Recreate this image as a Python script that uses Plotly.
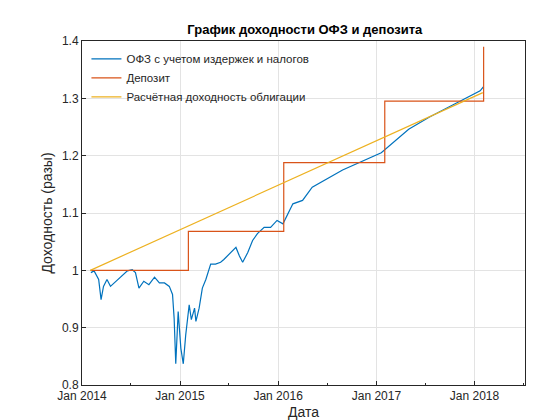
import plotly.graph_objects as go

# ОФЗ (blue)
ofz_dates = [
    "2014-02-03", "2014-02-15", "2014-03-04", "2014-03-13", "2014-03-22", "2014-04-04",
    "2014-04-17", "2014-05-01", "2014-05-13", "2014-06-01", "2014-06-19", "2014-07-07",
    "2014-07-19", "2014-08-01", "2014-08-19", "2014-09-07", "2014-09-28", "2014-10-16",
    "2014-11-04", "2014-11-22", "2014-12-04", "2014-12-10", "2014-12-16", "2014-12-25",
    "2015-01-04", "2015-01-13", "2015-01-22", "2015-02-04", "2015-02-12", "2015-02-24",
    "2015-03-01", "2015-03-13", "2015-03-25", "2015-04-07", "2015-04-25", "2015-05-13",
    "2015-06-01", "2015-06-13", "2015-07-07", "2015-07-28", "2015-08-10", "2015-08-22",
    "2015-09-10", "2015-09-28", "2015-10-16", "2015-11-10", "2015-12-04", "2015-12-28",
    "2016-01-19", "2016-02-01", "2016-02-25", "2016-04-01", "2016-05-07", "2016-08-28",
    "2017-01-19", "2017-05-01", "2017-07-16", "2017-10-19", "2018-01-22", "2018-02-03",
]
ofz_values = [
    0.996, 0.999, 0.984, 0.949, 0.972, 0.984,
    0.972, 0.978, 0.984, 0.993, 0.999, 1.001,
    0.996, 0.969, 0.981, 0.975, 0.988, 0.978,
    0.978, 0.972, 0.958, 0.916, 0.837, 0.928,
    0.864, 0.837, 0.887, 0.940, 0.914, 0.934,
    0.911, 0.934, 0.969, 0.984, 1.011, 1.011,
    1.014, 1.019, 1.031, 1.040, 1.025, 1.014,
    1.031, 1.052, 1.064, 1.075, 1.075, 1.087,
    1.081, 1.093, 1.116, 1.122, 1.145, 1.175,
    1.205, 1.246, 1.267, 1.290, 1.313, 1.320,
]

# Депозит (step line)
dep_dates = ["2014-02-01", "2015-02-01", "2016-01-22", "2017-02-01", "2018-01-28", "2018-02-04"]
dep_values = [1.0, 1.068, 1.188, 1.295, 1.295, 1.39]

# Расчётная доходность облигации (straight line)
calc_dates = ["2014-02-01", "2018-02-01"]
calc_values = [1.0, 1.31]

x_ticks = ["2014-01-01", "2015-01-01", "2016-01-01", "2017-01-01", "2018-01-01"]
x_ticktext = ["Jan 2014", "Jan 2015", "Jan 2016", "Jan 2017", "Jan 2018"]

FONT = "Liberation Sans, Arial, sans-serif"

fig = go.Figure()
fig.add_trace(go.Scatter(x=ofz_dates, y=ofz_values, mode="lines",
                         line=dict(color="#0072BD", width=1.2),
                         name="ОФЗ с учетом издержек и налогов"))
fig.add_trace(go.Scatter(x=dep_dates, y=dep_values, mode="lines",
                         line=dict(color="#D95319", width=1.2, shape="hv"),
                         name="Депозит"))
fig.add_trace(go.Scatter(x=calc_dates, y=calc_values, mode="lines",
                         line=dict(color="#EDB120", width=1.2),
                         name="Расчётная доходность облигации"))

axis = dict(showline=True, linecolor="#262626", mirror=True, ticks="inside",
            ticklen=4, tickcolor="#262626", showgrid=True, gridcolor="#e3e3e3",
            zeroline=False, automargin=False, tickfont=dict(size=12, color="#262626"))
fig.update_xaxes(**axis, range=["2014-01-01", "2018-07-08"],
                 tickvals=x_ticks, ticktext=x_ticktext,
                 title=dict(text="Дата", font=dict(size=14, color="#262626"), standoff=4),
                 minor=dict(ticks="inside", ticklen=2, dtick="M6", tick0="2014-07-01",
                            tickcolor="#262626", showgrid=False))
fig.update_yaxes(**axis, range=[0.8, 1.4], dtick=0.1, tickformat="~g",
                 title=dict(text="Доходность (разы)", font=dict(size=14, color="#262626"), standoff=6))
fig.update_layout(
    width=560, height=420, template="plotly_white",
    font=dict(family=FONT, color="#262626"),
    margin=dict(l=74, r=43, t=33, b=43, autoexpand=False),
    title=dict(text="<b>График доходности ОФЗ и депозита</b>", x=0.53, xanchor="center",
               y=0.96, font=dict(size=13, color="#000")),
    legend=dict(x=0.01, y=0.99, xanchor="left", yanchor="top", bgcolor="rgba(255,255,255,0)",
                borderwidth=0, font=dict(size=11.5),
                tracegroupgap=0, itemwidth=30),
    showlegend=True,
)
fig.write_html("out.html")
